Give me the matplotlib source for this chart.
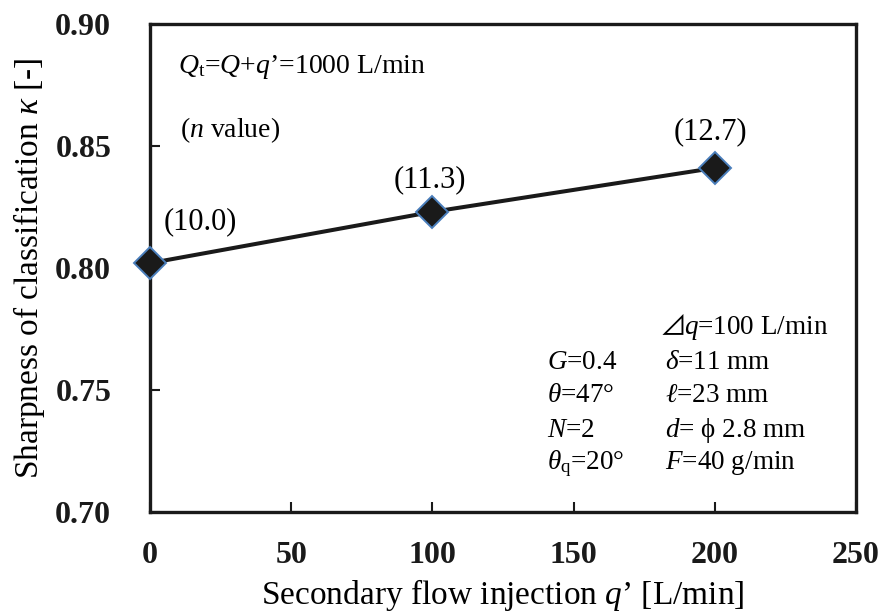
import matplotlib
matplotlib.use("Agg")
import matplotlib.pyplot as plt

plt.rcParams["font.family"] = ["Liberation Serif", "DejaVu Serif"]
plt.rcParams["mathtext.fontset"] = "custom"
plt.rcParams["mathtext.rm"] = "Liberation Serif"
plt.rcParams["mathtext.it"] = "Liberation Serif:italic"
plt.rcParams["mathtext.bf"] = "Liberation Serif:bold"

# Data
q_injection = [0, 100, 200]          # q' [L/min]
kappa = [0.802, 0.823, 0.841]        # sharpness of classification
n_values = ["(10.0)", "(11.3)", "(12.7)"]
x_ticks = [0, 50, 100, 150, 200, 250]
y_ticks = [0.70, 0.75, 0.80, 0.85, 0.90]

fig = plt.figure(figsize=(8.83, 6.15), dpi=100)
ax = fig.add_axes([0.1699, 0.1675, 0.7995, 0.7935])

ax.plot(q_injection, kappa, color="#1a1a1a", lw=2.9, marker="D", ms=16,
        markerfacecolor="#1a1a1a", markeredgecolor="#4a7ebb", markeredgewidth=1.4,
        clip_on=False, zorder=3)

label_offsets = [(9.5, 30), (-28, 23), (-29.5, 26)]
for x, y, lab, off in zip(q_injection, kappa, n_values, label_offsets):
    ax.annotate(lab, (x, y), xytext=off, textcoords="offset points",
                fontsize=22, ha="left", va="center")

ax.set_xlim(0, 250)
ax.set_ylim(0.70, 0.90)
ax.set_xticks(x_ticks)
ax.set_yticks(y_ticks)
ax.set_xticklabels([str(v) for v in x_ticks], fontweight="bold", fontsize=23)
ax.set_yticklabels([f"{v:.2f}" for v in y_ticks], fontweight="bold", fontsize=23)
ax.tick_params(axis="x", direction="in", length=7, width=1.5, pad=21, colors="#1a1a1a")
ax.tick_params(axis="y", direction="in", length=7, width=1.5, pad=28, colors="#1a1a1a")
for s in ax.spines.values():
    s.set_linewidth(2.4)
    s.set_color("#1a1a1a")

ax.set_xlabel("Secondary flow injection $q$’ [L/min]", fontsize=24, labelpad=5)
ax.set_ylabel("Sharpness of classification $\\kappa$ [-]", fontsize=24, labelpad=6)

# Operating conditions
fs = 19.5
ax.text(0.040, 0.912, "$Q_{\\mathrm{t}}$=$Q$+$q$’=1000 L/min", transform=ax.transAxes,
        fontsize=20, va="center", ha="left")
ax.text(0.042, 0.783, "($n$ value)", transform=ax.transAxes,
        fontsize=20, va="center", ha="left")

col1 = 0.562
col2 = 0.729
rows = [0.307, 0.238, 0.168, 0.100]
ax.text(0.721, 0.377, "⊿", transform=ax.transAxes, fontsize=fs,
        family=["Noto Sans CJK JP", "DejaVu Sans"], va="center", ha="left")
ax.text(0.757, 0.377, "$q$=100 L/min", transform=ax.transAxes, fontsize=fs,
        va="center", ha="left")
left_col = ["$G$=0.4", "$\\theta$=47°", "$N$=2", "$\\theta_{\\mathrm{q}}$=20°"]
right_col = ["$\\delta$=11 mm", "$\\ell$=23 mm", "$d$= ϕ 2.8 mm", "$F$=40 g/min"]
for r, a, b in zip(rows, left_col, right_col):
    ax.text(col1, r, a, transform=ax.transAxes, fontsize=fs, va="center", ha="left")
    ax.text(col2, r, b, transform=ax.transAxes, fontsize=fs, va="center", ha="left")

fig.savefig("out.png", dpi=100)
